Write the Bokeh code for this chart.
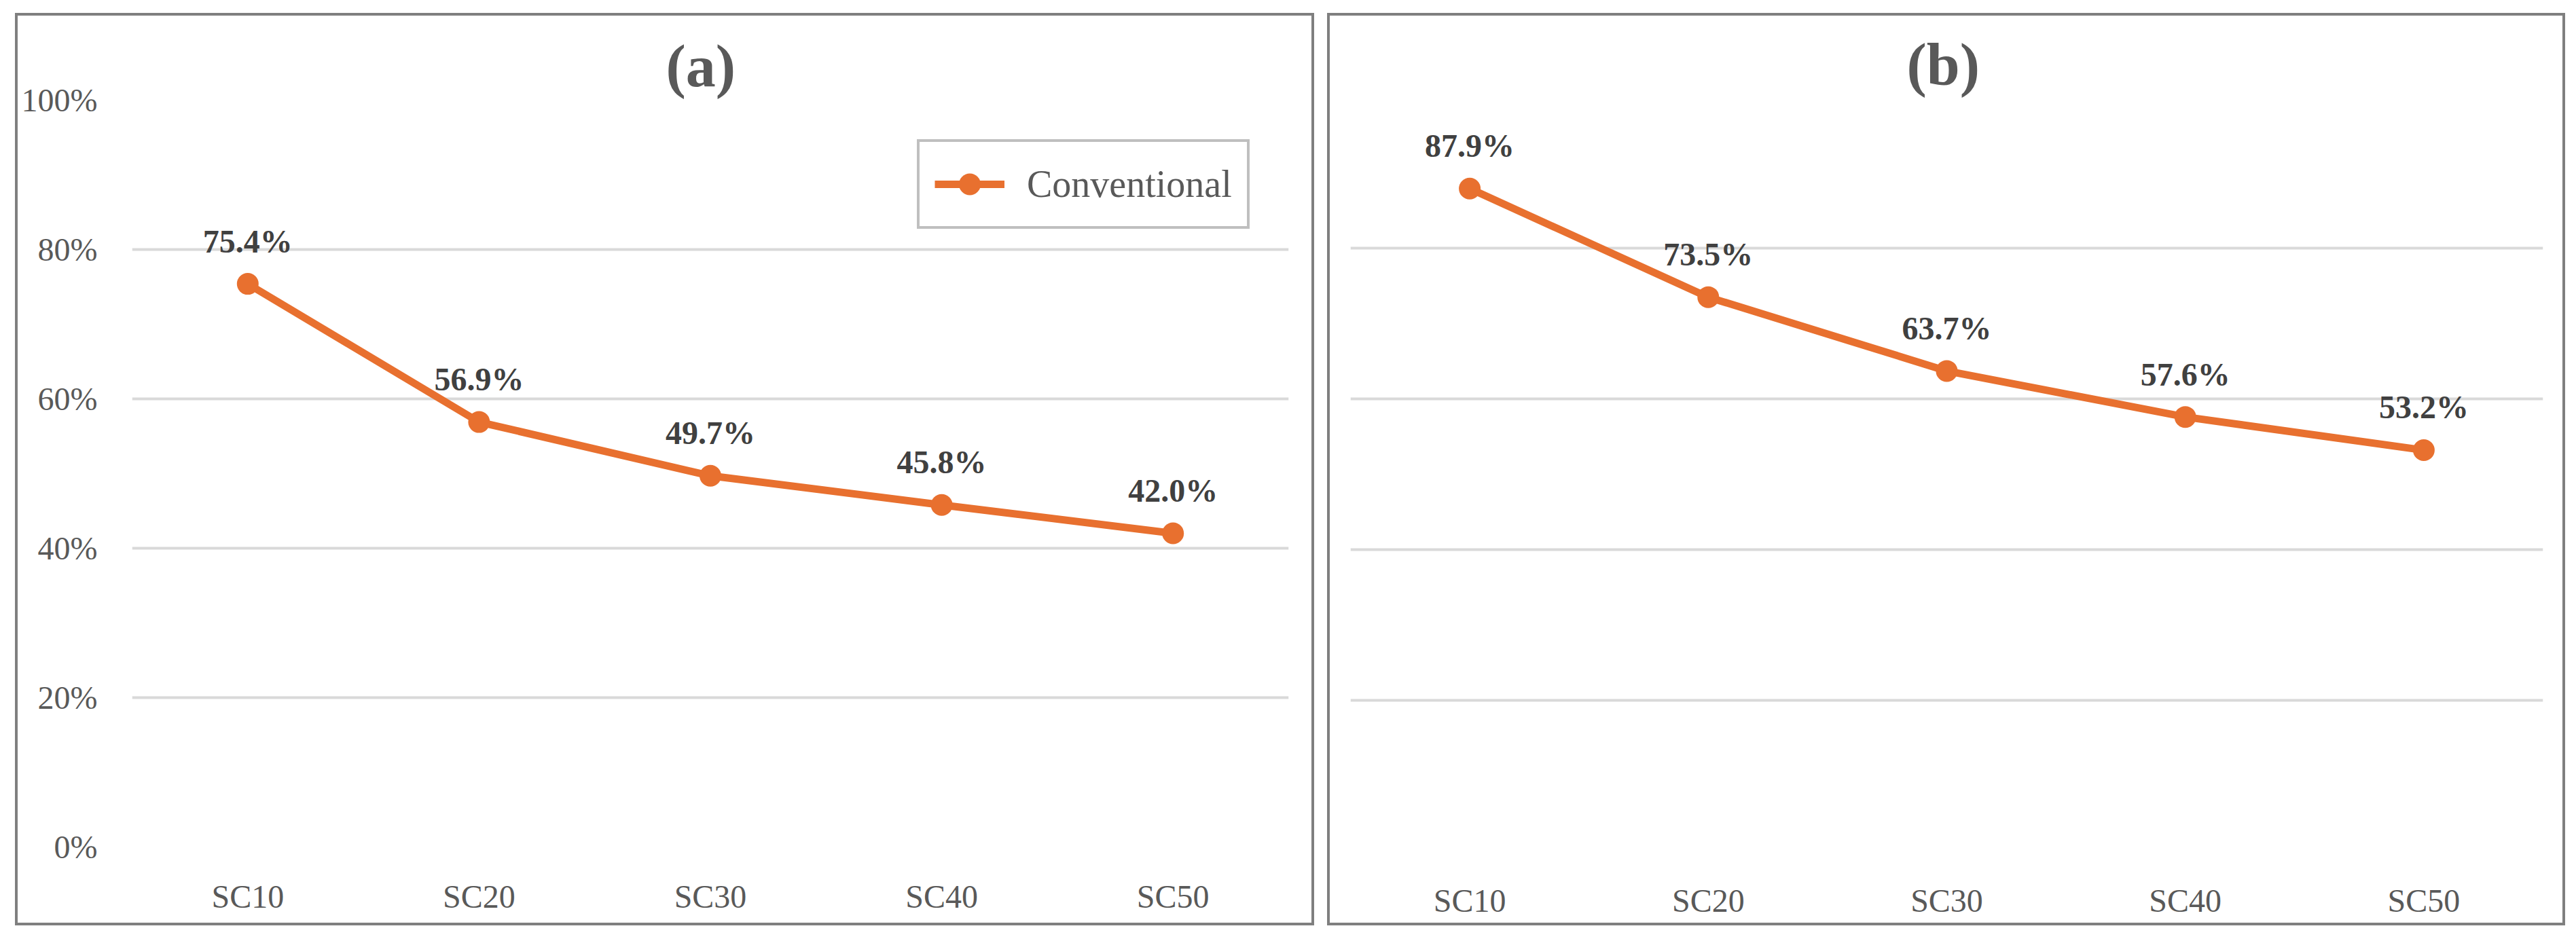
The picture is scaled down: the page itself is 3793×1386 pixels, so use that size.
from bokeh.plotting import figure
from bokeh.models import Range1d, FixedTicker, Legend, LegendItem, ColumnDataSource, Spacer
from bokeh.layouts import row, column
from bokeh.core.properties import value
from bokeh.embed import file_html
from bokeh.resources import INLINE

# ---- data ----
categories = ["SC10", "SC20", "SC30", "SC40", "SC50"]
values_a = [75.4, 56.9, 49.7, 45.8, 42.0]
values_b = [87.9, 73.5, 63.7, 57.6, 53.2]
y_ticks = [0, 20, 40, 60, 80, 100]
y_tick_labels = ["0%", "20%", "40%", "60%", "80%", "100%"]
series_name = "Conventional"
panel_titles = ["(a)", "(b)"]

ORANGE = "#E8702F"
FONT = "Liberation Serif"
GREY_TXT = "#595959"
DARK_TXT = "#404040"
FRAME_GREY = "#7F7F7F"
H = 1336


def make_panel(title, vals, width, show_y, show_legend, mb_left, mb_right, mb_top, mb_bottom,
               title_standoff, title_offset):
    p = figure(x_range=categories, y_range=Range1d(0, 100), width=width, height=H,
               output_backend="svg", toolbar_location=None,
               min_border_left=mb_left, min_border_right=mb_right,
               min_border_top=mb_top, min_border_bottom=mb_bottom)
    p.outline_line_color = None
    p.background_fill_color = "white"
    p.border_fill_color = "white"

    # title
    p.title.text = title
    p.title.align = "left"
    p.title.offset = title_offset
    p.title.text_font = FONT
    p.title.text_font_size = "88px"
    p.title.text_font_style = "bold"
    p.title.text_color = GREY_TXT
    p.title.standoff = title_standoff

    # grid
    p.xgrid.grid_line_color = None
    p.ygrid.ticker = FixedTicker(ticks=y_ticks)
    p.ygrid.grid_line_color = "#D9D9D9"
    p.ygrid.grid_line_width = 4

    # axes
    for ax in (p.xaxis[0], p.yaxis[0]):
        ax.axis_line_color = None
        ax.major_tick_line_color = None
        ax.minor_tick_line_color = None
        ax.major_tick_out = 0
        ax.major_tick_in = 0
        ax.major_label_text_font = FONT
        ax.major_label_text_font_size = "48px"
        ax.major_label_text_color = GREY_TXT
    p.xaxis.major_label_standoff = 46
    p.yaxis.ticker = FixedTicker(ticks=y_ticks)
    p.yaxis.major_label_overrides = {t: l for t, l in zip(y_ticks, y_tick_labels)}
    p.yaxis.major_label_standoff = 51
    p.yaxis.visible = show_y

    src = ColumnDataSource(dict(x=categories, y=vals, lab=[f"{v:.1f}%" for v in vals]))
    line_r = p.line("x", "y", source=src, line_color=ORANGE, line_width=11, line_join="round")
    pt_r = p.scatter("x", "y", source=src, size=32, fill_color=ORANGE, line_color=None)
    p.text("x", "y", text="lab", source=src, text_align="center", text_baseline="alphabetic",
           y_offset=-63, text_font=value(FONT), text_font_size="48px", text_font_style="bold",
           text_color=DARK_TXT)

    if show_legend:
        leg = Legend(items=[LegendItem(label=series_name, renderers=[line_r, pt_r])],
                     location=(1156, 910), orientation="vertical",
                     glyph_width=103, glyph_height=80, padding=22, margin=0,
                     label_standoff=33, label_text_font=FONT, label_text_font_size="56px",
                     label_text_color=GREY_TXT, border_line_color=FRAME_GREY,
                     border_line_width=4, background_fill_color="white", background_fill_alpha=1.0)
        p.add_layout(leg, "center")
    return p


pa = make_panel(panel_titles[0], values_a, 1905, True, True, 168, 34, 124, 112, 3, 786)
pb = make_panel(panel_titles[1], values_b, 1815, False, False, 30, 29, 120, 106, 0, 819)

box_style = {"border": "4px solid #7F7F7F"}
wa = column(pa, styles=box_style)
wb = column(pb, styles=box_style)

layout = column(Spacer(height=19),
                row(Spacer(width=22), wa, Spacer(width=19), wb))

open("out.html", "w").write(file_html(layout, INLINE))
